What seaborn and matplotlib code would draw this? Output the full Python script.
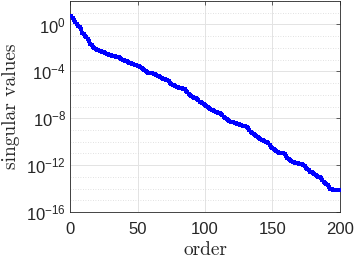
import numpy as np
import pandas as pd
import matplotlib
matplotlib.use('Agg')
import matplotlib.pyplot as plt
import matplotlib.ticker as mticker
import seaborn as sns

# exponents (log10) of the singular values, orders 1..200
exponents = [
    0.75, 0.55, 0.35, 0.25, 0.05, -0.1, -0.25, -0.35, -0.75, -0.85,
    -1.0, -1.1, -1.2, -1.4, -1.65, -1.75, -1.9, -2.0, -2.1, -2.15,
    -2.2, -2.25, -2.28, -2.32, -2.38, -2.45, -2.5, -2.55, -2.6, -2.64,
    -2.66, -2.7, -2.72, -2.75, -2.78, -2.8, -2.85, -2.92, -3.0, -3.05,
    -3.1, -3.15, -3.2, -3.25, -3.3, -3.35, -3.38, -3.42, -3.45, -3.5,
    -3.55, -3.62, -3.7, -3.77, -3.85, -3.98, -4.05, -4.1, -4.12, -4.15,
    -4.18, -4.2, -4.22, -4.3, -4.38, -4.43, -4.5, -4.55, -4.62, -4.68,
    -4.72, -4.77, -4.85, -4.95, -5.05, -5.12, -5.2, -5.26, -5.3, -5.34,
    -5.38, -5.42, -5.45, -5.48, -5.5, -5.65, -5.8, -5.95, -6.05, -6.12,
    -6.18, -6.24, -6.3, -6.35, -6.45, -6.58, -6.65, -6.72, -6.8, -6.9,
    -6.98, -7.05, -7.12, -7.2, -7.28, -7.32, -7.38, -7.45, -7.5, -7.52,
    -7.55, -7.6, -7.7, -7.85, -8.0, -8.1, -8.17, -8.22, -8.28, -8.32,
    -8.35, -8.38, -8.42, -8.45, -8.5, -8.55, -8.58, -8.62, -8.65, -8.68,
    -8.75, -8.85, -9.0, -9.15, -9.25, -9.35, -9.42, -9.5, -9.6, -9.68,
    -9.75, -9.82, -9.88, -9.95, -10.0, -10.02, -10.1, -10.3, -10.45, -10.55,
    -10.65, -10.72, -10.8, -10.87, -10.92, -10.95, -10.98, -11.0, -11.05, -11.2,
    -11.4, -11.5, -11.58, -11.64, -11.7, -11.74, -11.78, -11.82, -11.85, -11.88,
    -11.9, -11.92, -11.95, -12.05, -12.25, -12.35, -12.45, -12.55, -12.62, -12.7,
    -12.78, -12.85, -12.92, -12.98, -13.02, -13.1, -13.25, -13.4, -13.5, -13.6,
    -13.7, -13.85, -14.0, -14.05, -14.08, -14.1, -14.12, -14.12, -14.13, -14.14,
]
order = list(range(1, len(exponents) + 1))
x_ticks = [0, 50, 100, 150, 200]
y_major = [1e-16, 1e-12, 1e-8, 1e-4, 1e0]

df = pd.DataFrame({'order': order, 'sv': 10.0 ** np.array(exponents)})

sns.set_style('white')
plt.rcParams['font.family'] = ['Liberation Sans', 'DejaVu Sans']
plt.rcParams['mathtext.fontset'] = 'custom'
plt.rcParams['mathtext.rm'] = 'Liberation Sans'

fig = plt.figure(figsize=(3.54, 2.58), dpi=100)
ax = fig.add_axes([0.198, 0.178, 0.762, 0.818])

sns.scatterplot(data=df, x='order', y='sv', ax=ax, marker='s', s=5,
                color=(0, 0, 1), linewidth=0, zorder=3)

ax.set_yscale('log')
ax.set_xlim(0, 200)
ax.set_ylim(1e-16, 1e2)
ax.set_xticks(x_ticks)
ax.yaxis.set_major_locator(mticker.FixedLocator(y_major))
ax.yaxis.set_major_formatter(mticker.LogFormatterSciNotation())
ax.yaxis.set_minor_locator(mticker.FixedLocator([10.0 ** k for k in range(-16, 3)]))
ax.yaxis.set_minor_formatter(mticker.NullFormatter())

ax.grid(True, which='major', color='#e3e3e3', linewidth=0.7, zorder=0)
ax.grid(True, which='minor', axis='y', color='#d8d8d8', linestyle=(0, (1, 2)),
        linewidth=0.6, zorder=0)

for sp in ax.spines.values():
    sp.set_color('#262626')
    sp.set_linewidth(0.6)
ax.tick_params(which='both', direction='in', top=True, right=True,
               labelsize=12, colors='#262626', length=3, width=0.5)
ax.tick_params(axis='x', pad=7)
ax.tick_params(axis='y', pad=3)
ax.tick_params(which='minor', length=0)

ax.set_xlabel('order', fontname='cmr10', fontsize=14, labelpad=3)
ax.set_ylabel('singular values', fontname='cmr10', fontsize=14, labelpad=4)

fig.savefig('out.png', dpi=100)
